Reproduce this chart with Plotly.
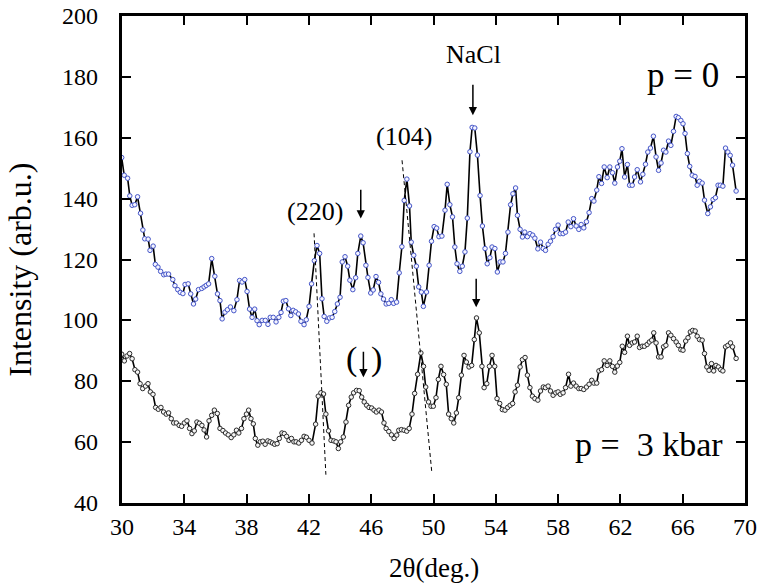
import plotly.graph_objects as go

# Diffraction scans: 2-theta (deg) and intensity (arb. u.)
TOP_2THETA = [29.98, 30.14, 30.36, 30.50, 30.65, 30.82, 31.00, 31.19, 31.34, 31.46, 31.68, 31.80, 32.00,
              32.14, 32.31, 32.48, 32.68, 32.82, 32.99, 33.26, 33.40, 33.58, 33.74, 33.91, 34.05, 34.25,
              34.41, 34.59, 34.73, 34.91, 35.12, 35.27, 35.41, 35.56, 35.76, 35.96, 36.13, 36.29, 36.43,
              36.61, 36.77, 36.96, 37.18, 37.38, 37.55, 37.71, 37.88, 38.03, 38.19, 38.35, 38.52, 38.67,
              38.81, 39.00, 39.20, 39.37, 39.52, 39.71, 39.89, 40.07, 40.21, 40.36, 40.52, 40.69, 40.84,
              40.99, 41.15, 41.33, 41.49, 41.69, 41.83, 42.01, 42.17, 42.35, 42.52, 42.69, 42.84, 42.98,
              43.15, 43.32, 43.49, 43.66, 43.83, 44.00, 44.14, 44.32, 44.49, 44.63, 44.82, 45.00, 45.14,
              45.33, 45.48, 45.66, 45.79, 45.97, 46.13, 46.31, 46.47, 46.62, 46.79, 46.96, 47.13, 47.29,
              47.44, 47.63, 47.80, 47.97, 48.12, 48.29, 48.46, 48.57, 48.73, 48.90, 49.05, 49.22, 49.35,
              49.55, 49.72, 49.87, 50.04, 50.20, 50.35, 50.54, 50.74, 50.88, 51.05, 51.22, 51.37, 51.51,
              51.69, 51.85, 52.02, 52.17, 52.34, 52.48, 52.65, 52.82, 52.99, 53.14, 53.31, 53.45, 53.62,
              53.76, 53.94, 54.10, 54.28, 54.46, 54.62, 54.78, 54.95, 55.10, 55.27, 55.39, 55.56, 55.71,
              55.86, 56.03, 56.19, 56.37, 56.51, 56.70, 56.87, 57.05, 57.19, 57.36, 57.51, 57.68, 57.83,
              58.00, 58.14, 58.32, 58.48, 58.65, 58.82, 58.99, 59.16, 59.33, 59.48, 59.65, 59.82, 59.99,
              60.16, 60.30, 60.48, 60.62, 60.79, 60.96, 61.15, 61.32, 61.49, 61.64, 61.81, 61.96, 62.10,
              62.27, 62.45, 62.59, 62.76, 62.91, 63.08, 63.29, 63.44, 63.61, 63.76, 63.93, 64.12, 64.29,
              64.45, 64.61, 64.77, 64.92, 65.09, 65.24, 65.41, 65.58, 65.72, 65.88, 66.02, 66.15, 66.30,
              66.45, 66.61, 66.79, 66.93, 67.08, 67.25, 67.40, 67.61, 67.78, 67.95, 68.10, 68.27, 68.42,
              68.58, 68.75, 68.90, 69.05, 69.20, 69.43]
TOP_INTENSITY = [153.5, 147.7, 146.7, 140.9, 137.8, 138.0, 140.6, 135.2, 129.7, 126.8, 126.7, 123.0, 124.4,
                 118.4, 117.5, 116.1, 115.0, 115.2, 115.2, 113.4, 111.4, 110.1, 109.2, 108.8, 111.8, 112.0,
                 108.7, 105.4, 107.0, 110.1, 110.5, 111.0, 111.5, 112.0, 120.3, 114.5, 108.7, 106.5, 100.5,
                 102.7, 103.5, 104.4, 103.2, 106.8, 113.1, 112.6, 113.4, 109.5, 103.7, 101.0, 103.7, 99.9,
                 98.6, 100.0, 100.0, 98.7, 101.0, 101.0, 99.5, 101.0, 102.6, 106.3, 106.5, 103.8, 101.6,
                 103.3, 102.8, 102.1, 99.7, 98.6, 100.2, 104.6, 112.0, 119.6, 124.6, 122.0, 107.1, 101.3,
                 99.7, 100.8, 101.0, 102.9, 105.4, 107.6, 119.2, 120.9, 117.8, 113.2, 110.1, 114.0, 122.0,
                 127.7, 125.5, 118.1, 114.1, 109.0, 110.0, 114.4, 112.5, 108.7, 107.0, 105.4, 105.6, 106.8,
                 105.6, 106.0, 115.6, 124.2, 139.4, 146.4, 137.6, 125.7, 121.4, 117.8, 111.0, 109.3, 104.6,
                 109.3, 118.1, 126.0, 130.8, 130.3, 127.5, 127.7, 136.2, 144.7, 138.0, 134.0, 124.1, 118.6,
                 116.1, 117.8, 122.5, 133.6, 155.4, 163.4, 163.2, 154.3, 141.0, 131.0, 123.6, 118.6, 120.6,
                 124.1, 123.6, 115.9, 119.2, 119.2, 122.0, 129.0, 138.0, 141.6, 143.5, 134.5, 129.9, 127.4,
                 129.0, 127.5, 128.5, 128.0, 127.0, 123.5, 125.7, 123.6, 123.0, 125.0, 126.0, 127.5, 129.9,
                 131.3, 128.5, 128.5, 129.0, 132.3, 130.8, 133.4, 131.0, 129.9, 131.5, 130.4, 132.4, 135.4,
                 140.0, 139.2, 142.8, 147.2, 145.0, 150.4, 146.9, 150.4, 148.5, 145.1, 150.4, 152.3, 156.4,
                 147.1, 151.2, 144.4, 144.4, 147.1, 149.5, 145.5, 148.0, 151.3, 155.3, 156.6, 160.5, 153.7,
                 149.3, 151.7, 155.9, 155.3, 158.9, 157.5, 162.1, 167.0, 166.6, 165.7, 164.6, 161.4, 154.8,
                 150.6, 147.7, 147.3, 144.4, 145.7, 145.1, 139.5, 135.1, 137.3, 139.7, 140.3, 144.4, 144.4,
                 144.1, 156.6, 155.3, 154.2, 151.0, 142.5]

BOTTOM_2THETA = [29.98, 30.15, 30.32, 30.49, 30.65, 30.83, 31.00, 31.16, 31.33, 31.51, 31.67, 31.82, 31.99,
                 32.16, 32.33, 32.50, 32.67, 32.84, 32.99, 33.16, 33.32, 33.49, 33.67, 33.83, 34.00, 34.17,
                 34.34, 34.49, 34.64, 34.81, 34.97, 35.13, 35.27, 35.43, 35.59, 35.76, 35.93, 36.12, 36.29,
                 36.48, 36.65, 36.82, 37.01, 37.18, 37.35, 37.50, 37.67, 37.83, 37.99, 38.13, 38.28, 38.43,
                 38.56, 38.72, 38.88, 39.04, 39.19, 39.36, 39.51, 39.66, 39.80, 39.96, 40.10, 40.27, 40.42,
                 40.57, 40.72, 40.88, 41.04, 41.18, 41.35, 41.52, 41.69, 41.84, 42.01, 42.20, 42.43, 42.60,
                 42.77, 42.94, 43.09, 43.26, 43.42, 43.60, 43.74, 43.89, 44.04, 44.21, 44.38, 44.55, 44.72,
                 44.87, 45.06, 45.23, 45.39, 45.55, 45.71, 45.86, 46.03, 46.18, 46.33, 46.50, 46.66, 46.82,
                 46.96, 47.13, 47.30, 47.47, 47.64, 47.77, 47.94, 48.11, 48.28, 48.44, 48.62, 48.79, 48.98,
                 49.19, 49.36, 49.50, 49.68, 49.84, 49.99, 50.16, 50.31, 50.48, 50.65, 50.82, 50.97, 51.14,
                 51.30, 51.47, 51.62, 51.79, 51.96, 52.11, 52.28, 52.45, 52.62, 52.76, 52.94, 53.11, 53.25,
                 53.42, 53.59, 53.76, 53.93, 54.08, 54.25, 54.42, 54.59, 54.76, 54.92, 55.08, 55.24, 55.39,
                 55.56, 55.71, 55.88, 56.03, 56.19, 56.35, 56.51, 56.70, 56.87, 57.05, 57.19, 57.36, 57.51,
                 57.68, 57.85, 58.00, 58.14, 58.32, 58.48, 58.67, 58.82, 58.99, 59.16, 59.33, 59.48, 59.65,
                 59.82, 59.99, 60.16, 60.30, 60.48, 60.62, 60.79, 60.96, 61.15, 61.32, 61.49, 61.64, 61.80,
                 61.96, 62.12, 62.27, 62.45, 62.59, 62.76, 62.91, 63.08, 63.23, 63.40, 63.54, 63.72, 63.86,
                 64.01, 64.14, 64.29, 64.45, 64.61, 64.77, 64.92, 65.09, 65.24, 65.41, 65.58, 65.72, 65.88,
                 66.02, 66.19, 66.34, 66.49, 66.64, 66.80, 66.93, 67.08, 67.25, 67.40, 67.55, 67.69, 67.85,
                 67.99, 68.14, 68.29, 68.44, 68.58, 68.75, 68.90, 69.07, 69.20, 69.43]
BOTTOM_INTENSITY = [88.9, 86.7, 88.3, 89.1, 87.4, 83.8, 83.0, 79.2, 77.6, 78.4, 79.2, 76.5, 75.7,
                    71.4, 70.8, 71.4, 69.9, 69.2, 69.6, 67.7, 66.3, 66.3, 65.5, 65.2, 66.3, 67.0,
                    64.5, 62.8, 63.7, 66.6, 66.2, 65.5, 64.0, 61.7, 67.0, 68.8, 70.5, 69.4, 64.5,
                    63.8, 63.0, 62.4, 61.5, 62.4, 63.9, 63.0, 64.5, 67.7, 69.2, 70.5, 67.7, 66.0,
                    61.2, 59.0, 60.1, 60.3, 59.3, 60.4, 60.1, 59.7, 59.3, 59.5, 61.2, 63.0, 62.8,
                    61.9, 60.6, 61.2, 60.1, 60.1, 59.7, 60.6, 61.9, 61.6, 60.6, 59.7, 65.9, 75.1,
                    76.2, 75.8, 69.2, 63.7, 60.6, 60.4, 60.1, 57.9, 60.1, 61.7, 66.6, 72.1, 74.8,
                    76.2, 77.0, 76.9, 74.8, 73.2, 72.1, 71.4, 71.2, 70.5, 69.9, 70.5, 69.9, 66.3,
                    64.5, 63.5, 62.4, 61.2, 62.3, 63.9, 64.1, 63.9, 63.6, 64.5, 69.2, 76.0, 82.3,
                    89.3, 84.9, 78.1, 73.2, 71.8, 71.8, 74.6, 80.6, 84.9, 82.2, 79.0, 69.2, 67.7,
                    66.3, 69.6, 74.6, 82.0, 88.5, 86.3, 84.7, 85.2, 93.7, 100.8, 95.9, 84.9, 77.9,
                    79.2, 84.9, 88.5, 84.9, 74.3, 72.7, 70.7, 70.5, 71.4, 72.1, 72.7, 76.5, 78.7,
                    84.7, 87.1, 87.8, 82.0, 77.9, 75.1, 74.3, 73.8, 76.8, 78.1, 77.9, 78.4, 76.8,
                    75.4, 76.2, 76.5, 75.7, 76.2, 77.9, 82.3, 78.4, 79.4, 78.4, 77.6, 77.6, 77.3,
                    78.1, 79.0, 80.3, 79.4, 79.4, 83.4, 83.8, 86.7, 85.2, 86.7, 84.9, 83.0, 85.0,
                    86.2, 91.5, 89.5, 94.8, 91.8, 92.6, 92.9, 94.8, 91.1, 91.5, 91.5, 92.1, 92.9,
                    93.5, 95.9, 92.6, 88.0, 88.0, 91.3, 91.8, 95.9, 95.1, 94.0, 92.9, 91.8, 90.4,
                    90.2, 93.2, 94.3, 96.2, 96.7, 96.5, 94.8, 93.7, 93.5, 89.1, 84.7, 83.6, 85.8,
                    83.4, 85.2, 84.7, 83.8, 83.4, 91.3, 91.8, 92.6, 91.3, 87.5]

X_TICKS = [30, 34, 38, 42, 46, 50, 54, 58, 62, 66, 70]
Y_TICKS = [40, 60, 80, 100, 120, 140, 160, 180, 200]

# Peak labels (x, y, text) and marker arrows (x, tail y, tip y)
PEAK_LABELS = [(42.42, 135.8, "(220)"), (48.12, 160.3, "(104)"), (52.55, 187.3, "NaCl")]
PEAK_ARROWS = [(52.53, 177.9, 167.4), (45.33, 143.4, 133.5), (52.74, 114.2, 104.3), (45.50, 90.2, 81.3)]
# Guide lines following the shift of (220) and (104) between the two scans
GUIDES = [((42.33, 128.6), (43.09, 49.3)), ((47.98, 152.6), (49.89, 50.1))]

FONT = "Liberation Serif, Times New Roman, DejaVu Serif, serif"

fig = go.Figure()
fig.add_trace(go.Scatter(
    x=TOP_2THETA, y=TOP_INTENSITY, mode="lines+markers",
    line=dict(color="black", width=1.6),
    marker=dict(symbol="circle", size=4.5, color="#f4f4ff", line=dict(color="#4455c8", width=1)),
    showlegend=False, hoverinfo="skip"))
fig.add_trace(go.Scatter(
    x=BOTTOM_2THETA, y=BOTTOM_INTENSITY, mode="lines+markers",
    line=dict(color="black", width=1.6),
    marker=dict(symbol="circle", size=4.5, color="#f4f4f4", line=dict(color="#2a2a2a", width=1)),
    showlegend=False, hoverinfo="skip"))

for (x0, y0), (x1, y1) in GUIDES:
    fig.add_shape(type="line", xref="x", yref="y", x0=x0, y0=y0, x1=x1, y1=y1,
                  line=dict(color="black", width=1, dash="4px,3px"))

annotations = []
# intensity tick labels, set a little away from the frame
for v in Y_TICKS:
    annotations.append(dict(x=-0.035, y=v, xref="paper", yref="y", text=str(v), showarrow=False,
                            font=dict(family=FONT, size=24, color="black"),
                            xanchor="right", yanchor="middle"))
for x, y, t in PEAK_LABELS:
    annotations.append(dict(x=x, y=y, xref="x", yref="y", text=t, showarrow=False,
                            font=dict(family=FONT, size=26, color="black"),
                            xanchor="center", yanchor="middle"))
for x, tail, tip in PEAK_ARROWS:
    annotations.append(dict(x=x, y=tip, ax=x, ay=tail, xref="x", yref="y", axref="x", ayref="y",
                            text="", showarrow=True, arrowhead=2, arrowsize=1.1, arrowwidth=1.5,
                            arrowcolor="black", standoff=0))
# brackets around the weak arrow on the lower scan
for x, t in [(44.73, "("), (46.34, ")")]:
    annotations.append(dict(x=x, y=87.4, xref="x", yref="y", text=t, showarrow=False,
                            font=dict(family=FONT, size=34, color="black"),
                            xanchor="center", yanchor="middle"))
annotations.append(dict(x=66.0, y=180.6, xref="x", yref="y", text="p = 0", showarrow=False,
                        font=dict(family=FONT, size=35, color="black"),
                        xanchor="center", yanchor="middle"))
annotations.append(dict(x=63.85, y=59.2, xref="x", yref="y", text="p =\u00a0\u00a03 kbar", showarrow=False,
                        font=dict(family=FONT, size=34, color="black"),
                        xanchor="center", yanchor="middle"))
# axis titles
annotations.append(dict(x=-0.163, y=0.48, xref="paper", yref="paper", text="Intensity (arb.u.)",
                        textangle=-90, showarrow=False, xanchor="center", yanchor="middle",
                        font=dict(family=FONT, size=32, color="black")))
annotations.append(dict(x=0.5, y=-0.134, xref="paper", yref="paper", text="2θ(deg.)",
                        showarrow=False, xanchor="center", yanchor="middle",
                        font=dict(family=FONT, size=27, color="black")))

axis_common = dict(showgrid=False, zeroline=False, showline=True, linecolor="black", linewidth=3,
                   mirror="ticks", ticks="inside", ticklen=9, tickwidth=2, tickcolor="black",
                   tickfont=dict(family=FONT, size=24, color="black"))

fig.update_layout(
    width=769, height=586,
    margin=dict(l=122, r=18, t=16, b=83),
    paper_bgcolor="white", plot_bgcolor="white",
    font=dict(family=FONT, color="black"),
    xaxis=dict(range=[30, 70], tickvals=X_TICKS, **axis_common),
    yaxis=dict(range=[40, 200], tickvals=Y_TICKS, showticklabels=False, **axis_common),
    annotations=annotations,
)

fig.write_html("out.html")
